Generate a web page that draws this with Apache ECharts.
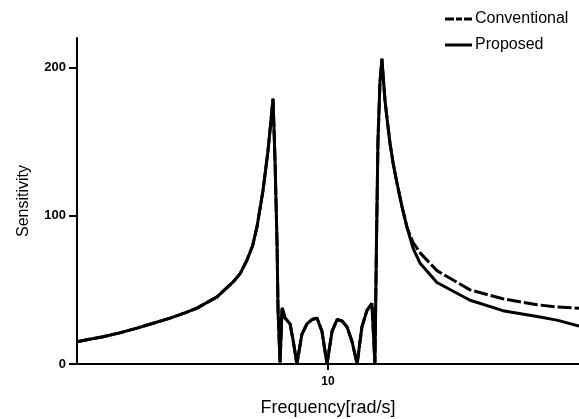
<!DOCTYPE html>
<html>
<head>
<meta charset="utf-8">
<script src="https://cdn.jsdelivr.net/npm/echarts@6/dist/echarts.min.js"></script>
<style>
html,body{margin:0;padding:0;background:#fff;}
#c{width:579px;height:419px;}
</style>
</head>
<body>
<div id="c"></div>
<script>
var frequency = [0,0.5,1.04,1.7,2.39,3.0,3.71,4.3,4.78,5.58,6.22,6.5,6.77,7.0,7.17,7.41,7.61,7.72,7.81,7.89,7.97,8.01,8.09,8.17,8.29,8.49,8.62,8.76,8.96,9.16,9.36,9.56,9.76,9.96,10.16,10.36,10.56,10.76,10.96,11.16,11.35,11.55,11.75,11.87,11.93,11.99,12.07,12.15,12.19,12.27,12.35,12.47,12.6,12.75,12.95,13.15,13.39,13.67,14.34,15.66,16.97,18.33,19.12,20];
var conventional = [15,16.7,18.4,21,24.2,27.3,31,34.5,37.7,45.3,55.4,61,70,80,92.5,117,144,163,179,137,81,36,1,38,31,27,15,0,20,27,30,31,22,0,22,30,29,25,15,0,25,36,41,0,80,150,190,206,196,178,166,149,135,122,106,92,82,75,63,50,44,40,38.5,37.7];
var proposed = [15,16.7,18.4,21,24.2,27.3,31,34.5,37.7,45.3,55.4,61,70,80,92.5,117,144,163,179,137,81,36,1,38,31,27,15,0,20,27,30,31,22,0,22,30,29,25,15,0,25,36,41,0,80,150,190,206,196,178,166,149,135,122,106,92,78,68,55,43,36,32,29.6,25.6];
var xTicks = [10];
var yTicks = [0,100,200];

function pairs(xs, ys){ return xs.map(function(x,i){ return [x, ys[i]]; }); }

var font = 'Liberation Sans, Arial, sans-serif';
var chart = echarts.init(document.getElementById('c'), null, {renderer:'canvas'});
chart.setOption({
  backgroundColor:'#fff',
  animation:false,
  grid:{left:77, right:0, top:38, bottom:55, outerBoundsMode:'none', containLabel:false},
  legend:{
    orient:'vertical', left:440, top:6, itemGap:10, itemWidth:27, itemHeight:3,
    textStyle:{fontFamily:font, fontSize:16, color:'#000', padding:[0,0,0,-2]},
    data:[
      {name:'Conventional', icon:'path://M0,0H9V3H0Z M11,0H17V3H11Z M19,0H27V3H19Z'},
      {name:'Proposed', icon:'path://M0,0H27V3H0Z'}
    ]
  },
  xAxis:{
    type:'value', min:0, max:20,
    name:'Frequency[rad/s]', nameLocation:'middle', nameGap:35,
    nameTextStyle:{fontFamily:font, fontSize:18, color:'#000'},
    axisLine:{lineStyle:{color:'#000', width:2}},
    axisTick:{show:true, length:6, customValues:xTicks, lineStyle:{color:'#000', width:2}},
    axisLabel:{customValues:xTicks, fontFamily:font, fontSize:12, fontWeight:'bold', color:'#000', margin:12},
    splitLine:{show:false}
  },
  yAxis:{
    type:'value', min:0, max:220,
    name:'Sensitivity', nameLocation:'middle', nameGap:45, nameRotate:90,
    nameTextStyle:{fontFamily:font, fontSize:16, color:'#000'},
    axisLine:{lineStyle:{color:'#000', width:2}},
    axisTick:{show:true, length:8, customValues:yTicks, lineStyle:{color:'#000', width:2}},
    axisLabel:{customValues:yTicks, fontFamily:font, fontSize:13, fontWeight:'bold', color:'#000', margin:11},
    splitLine:{show:false}
  },
  series:[
    {name:'Proposed', type:'line', symbol:'none', data:pairs(frequency, proposed),
     lineStyle:{color:'#000', width:3}, itemStyle:{color:'#000'}},
    {name:'Conventional', type:'line', symbol:'none', data:pairs(frequency, conventional),
     lineStyle:{color:'#000', width:3, type:[14,3]}, itemStyle:{color:'#000'}}
  ]
});
</script>
</body>
</html>
